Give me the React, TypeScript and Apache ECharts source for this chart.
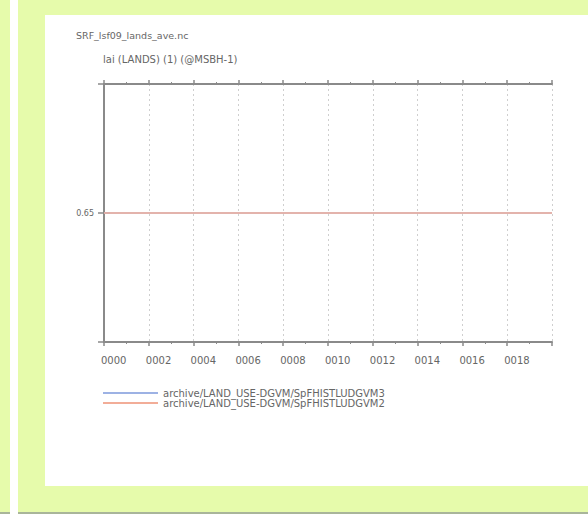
import React, { useEffect, useRef } from "react";
import * as echarts from "echarts";

const years = [0, 1, 2, 3, 4, 5, 6, 7, 8, 9, 10, 11, 12, 13, 14, 15, 16, 17, 18, 19, 20];
const seriesDGVM3 = [0.65, 0.65, 0.65, 0.65, 0.65, 0.65, 0.65, 0.65, 0.65, 0.65, 0.65, 0.65, 0.65, 0.65, 0.65, 0.65, 0.65, 0.65, 0.65, 0.65, 0.65];
const seriesDGVM2 = [0.65, 0.65, 0.65, 0.65, 0.65, 0.65, 0.65, 0.65, 0.65, 0.65, 0.65, 0.65, 0.65, 0.65, 0.65, 0.65, 0.65, 0.65, 0.65, 0.65, 0.65];
const seriesNames = ["archive/LAND_USE-DGVM/SpFHISTLUDGVM3", "archive/LAND_USE-DGVM/SpFHISTLUDGVM2"];
const titleText = "SRF_lsf09_lands_ave.nc";
const subtitleText = "lai (LANDS) (1) (@MSBH-1)";
const yLabels = ["0.65"];

const GREEN = "#e6fbab";
const AXIS = "#8a8a8a";
const TEXT = "#666";
const FONT = "'DejaVu Sans', sans-serif";

export default function App() {
  const ref = useRef<HTMLDivElement>(null);
  useEffect(() => {
    if (!ref.current) return;
    const chart = echarts.init(ref.current, undefined, { renderer: "svg" });
    const mk = (vals: number[]) => years.map((y, i) => [y, vals[i]]);
    const xAxisBase = {
      type: "value",
      min: 0,
      max: 20,
      interval: 2,
      axisLine: { show: true, lineStyle: { color: AXIS, width: 2 } },
      axisTick: { show: true, length: 4, lineStyle: { color: AXIS, width: 1.5 } },
      minorTick: { show: true, splitNumber: 2, length: 2, lineStyle: { color: AXIS } },
      splitLine: { show: false },
    };
    chart.setOption({
      animation: false,
      backgroundColor: "#ffffff",
      graphic: [
        { type: "rect", shape: { x: 0, y: 0, width: 10, height: 513 }, style: { fill: GREEN }, silent: true, z: -10 },
        { type: "rect", shape: { x: 18, y: 0, width: 570, height: 513 }, style: { fill: GREEN }, silent: true, z: -10 },
        { type: "rect", shape: { x: 45, y: 15, width: 543, height: 471 }, style: { fill: "#ffffff" }, silent: true, z: -9 },
        { type: "rect", shape: { x: 0, y: 512, width: 10, height: 2 }, style: { fill: "#a9b59a" }, silent: true, z: -9 },
        { type: "rect", shape: { x: 18, y: 512, width: 570, height: 2 }, style: { fill: "#a9b59a" }, silent: true, z: -9 },
        { type: "text", left: 76, top: 30, style: { text: titleText, fill: TEXT, font: `9.5px ${FONT}` }, silent: true },
        { type: "text", left: 103, top: 54, style: { text: subtitleText, fill: TEXT, font: `10px ${FONT}` }, silent: true },
      ],
      grid: { left: 104, right: 36, top: 84, bottom: 187, containLabel: false },
      xAxis: [
        {
          ...xAxisBase,
          position: "bottom",
          axisLabel: {
            show: true,
            color: TEXT,
            fontSize: 10,
            fontFamily: FONT,
            align: "left",
            margin: 13,
            padding: [0, 0, 0, -3],
            formatter: (v: number) => (v >= 20 ? "" : String(v).padStart(4, "0")),
          },
          splitLine: { show: true, lineStyle: { color: "#cfcfcf", type: [2, 3], width: 1 } },
        },
        { ...xAxisBase, position: "top", axisLabel: { show: false } },
      ],
      yAxis: [
        {
          type: "value",
          min: 0.6,
          max: 0.7,
          interval: 0.05,
          position: "left",
          axisLine: { show: true, lineStyle: { color: AXIS, width: 2 } },
          axisTick: { show: true, length: 6, lineStyle: { color: AXIS, width: 1.5 } },
          splitLine: { show: false },
          axisLabel: {
            color: TEXT,
            fontSize: 8,
            fontFamily: FONT,
            margin: 10,
            formatter: (v: number) => (yLabels.includes(v.toFixed(2)) ? v.toFixed(2) : ""),
          },
        },
        {
          type: "value",
          min: 0.6,
          max: 0.7,
          interval: 0.05,
          position: "right",
          axisLine: { show: true, lineStyle: { color: AXIS, width: 2 } },
          axisTick: { show: true, length: 6, lineStyle: { color: AXIS, width: 1.5 } },
          splitLine: { show: false },
          axisLabel: { show: false },
        },
      ],
      legend: {
        orient: "vertical",
        left: 98,
        top: 383,
        itemWidth: 55,
        itemHeight: 2,
        itemGap: 0,
        icon: "rect",
        textStyle: { color: TEXT, fontSize: 10, lineHeight: 9, fontFamily: FONT },
        data: seriesNames,
      },
      series: [
        {
          name: seriesNames[0],
          type: "line",
          data: mk(seriesDGVM3),
          symbol: "none",
          lineStyle: { color: "#9db2e4", width: 1.5 },
          itemStyle: { color: "#9db2e4" },
          z: 2,
        },
        {
          name: seriesNames[1],
          type: "line",
          data: mk(seriesDGVM2),
          symbol: "none",
          lineStyle: { color: "#f2ad98", width: 1.5 },
          itemStyle: { color: "#f2ad98" },
          z: 3,
        },
      ],
    });
    return () => chart.dispose();
  }, []);
  return (
    <div
      ref={ref}
      style={{ position: "absolute", left: 0, top: 0, width: 588, height: 529 }}
    />
  );
}
